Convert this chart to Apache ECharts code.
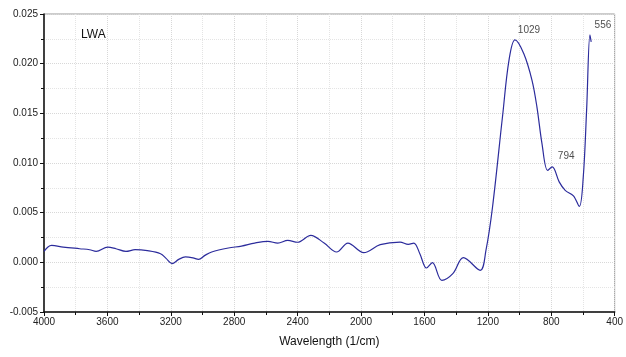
<!DOCTYPE html>
<html><head><meta charset="utf-8">
<script src="https://cdn.jsdelivr.net/npm/echarts@6/dist/echarts.min.js"></script>
<style>html,body{margin:0;padding:0;background:#fff}#c{width:626px;height:357px}</style>
</head><body><div id="c"></div>
<script>
var wavenumbers = [4000,3975,3952,3879,3775,3712,3671,3598,3546,3483,3425,3348,3265,3230,3192,3150,3108,3060,3025,2985,2942,2837,2754,2671,2587,2525,2462,2400,2317,2233,2154,2083,1983,1879,1754,1702,1667,1629,1587,1550,1490,1421,1354,1248,1212,1171,1108,1067,1029,973,921,890,858,823,794,750,712,660,623,598,577,556,548];
var absorbance = [0.0011,0.00155,0.0017,0.00154,0.00137,0.00127,0.0011,0.00154,0.00137,0.0011,0.00127,0.00117,0.00087,0.0004,-0.00013,0.0003,0.00054,0.00045,0.0003,0.0007,0.00104,0.00144,0.00164,0.00194,0.00211,0.00194,0.00221,0.00202,0.00272,0.00194,0.00104,0.00194,0.00097,0.00178,0.00204,0.00181,0.00194,0.00087,-0.00057,-0.00003,-0.00181,-0.00114,0.00047,-0.0008,0.0012,0.0055,0.0146,0.0203,0.0224,0.0210,0.0183,0.0156,0.0119,0.00926,0.0096,0.0081,0.00724,0.0067,0.00563,0.0086,0.0153,0.0229,0.0222];
var peakX = [1029, 794, 556];
var peakY = [0.0224, 0.0096, 0.0229];
var peakLabels = ['1029', '794', '556'];
var sampleName = 'LWA';
var xTitle = 'Wavelength (1/cm)';

var lineData = wavenumbers.map(function(w, i){ return [w, absorbance[i]]; });
var peakData = peakX.map(function(w, i){ return {name: peakLabels[i], value: [w, peakY[i]]}; });
var peakOffsets = [[14, 1], [14, 0], [13, 1]];

var chart = echarts.init(document.getElementById('c'));
var axisFont = {fontFamily: 'Liberation Sans, Arial, sans-serif', fontSize: 10, color: '#222'};
chart.setOption({
  animation: false,
  title: {text: sampleName, left: 76, top: 24, textStyle: {fontFamily: 'Liberation Sans, Arial, sans-serif', fontSize: 12, fontWeight: 'normal', color: '#111'}},
  grid: {left: 44, right: 6, top: 14, bottom: 45, show: true, borderColor: '#999', borderWidth: 1},
  xAxis: {
    type: 'value', inverse: true, min: 400, max: 4000, interval: 400,
    name: xTitle, nameLocation: 'middle', nameGap: 24,
    nameTextStyle: {fontFamily: 'Liberation Sans, Arial, sans-serif', fontSize: 12, color: '#111'},
    axisLine: {show: true, onZero: false, lineStyle: {color: '#111', width: 1.5}},
    axisTick: {show: true, length: 4, lineStyle: {color: '#111'}},
    minorTick: {show: true, splitNumber: 2, length: 3, lineStyle: {color: '#111'}},
    splitLine: {show: true, lineStyle: {color: '#d8d8d8', type: 'dotted'}},
    minorSplitLine: {show: true, lineStyle: {color: '#e4e4e4', type: 'dotted'}},
    axisLabel: Object.assign({margin: 5, formatter: function(v){ return String(v); }}, axisFont)
  },
  yAxis: {
    type: 'value', min: -0.005, max: 0.025, interval: 0.005,
    axisLine: {show: true, onZero: false, lineStyle: {color: '#111', width: 1.5}},
    axisTick: {show: true, length: 4, lineStyle: {color: '#111'}},
    minorTick: {show: true, splitNumber: 2, length: 3, lineStyle: {color: '#111'}},
    splitLine: {show: true, lineStyle: {color: '#d8d8d8', type: 'dotted'}},
    minorSplitLine: {show: true, lineStyle: {color: '#e4e4e4', type: 'dotted'}},
    axisLabel: Object.assign({margin: 6, formatter: function(v){ return v.toFixed(3); }}, axisFont)
  },
  series: [
    {type: 'line', data: lineData, smooth: 0.35, showSymbol: false, symbol: 'none',
     lineStyle: {color: '#2c2c9c', width: 1.2}},
    {type: 'scatter', data: peakData, symbolSize: 0,
     label: {show: true, position: 'top', distance: 6,
       formatter: function(p){ return p.name; },
       fontFamily: 'Liberation Sans, Arial, sans-serif', fontSize: 10, color: '#222'},
     labelLayout: function(p){ var o = peakOffsets[p.dataIndex]; return {dx: o[0], dy: o[1]}; }}
  ]
});
</script></body></html>
